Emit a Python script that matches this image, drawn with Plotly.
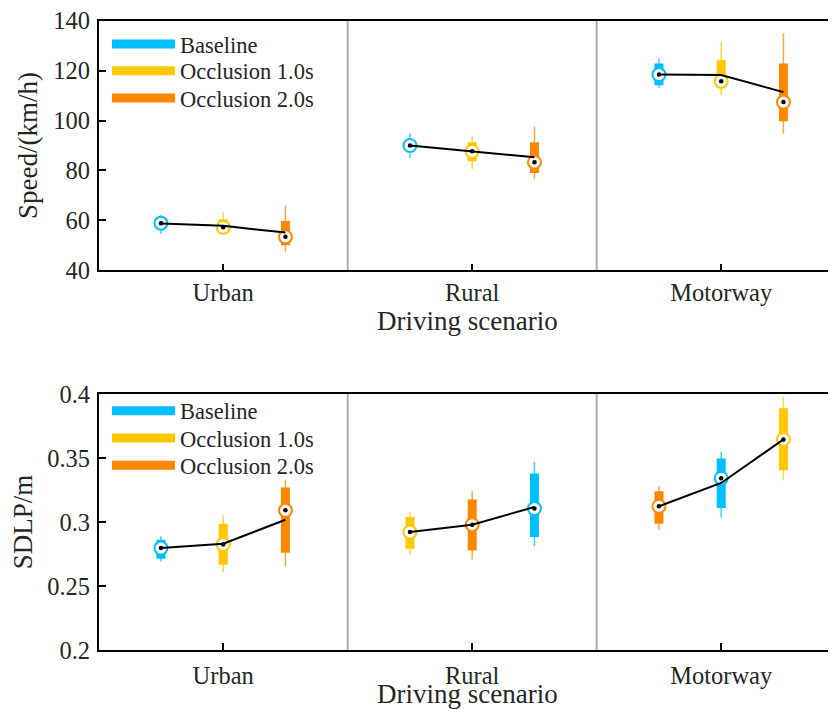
import plotly.graph_objects as go

# ---------------- data ----------------
scenarios = ["Urban", "Rural", "Motorway"]
series_names = ["Baseline", "Occlusion 1.0s", "Occlusion 2.0s"]
series_colors = {"Baseline": "#00BFFF", "Occlusion 1.0s": "#FFC800", "Occlusion 2.0s": "#FF8800"}

# Speed panel (per scenario, boxes in left-to-right order)
speed_order = [["Baseline", "Occlusion 1.0s", "Occlusion 2.0s"],
               ["Baseline", "Occlusion 1.0s", "Occlusion 2.0s"],
               ["Baseline", "Occlusion 1.0s", "Occlusion 2.0s"]]
speed_median = [[58.9, 57.2, 53.4], [90.0, 87.7, 83.3], [118.4, 115.7, 107.4]]
speed_q1 = [[57.5, 56.0, 50.0], [88.5, 83.7, 79.0], [114.1, 114.0, 99.7]]
speed_q3 = [[60.3, 60.5, 59.8], [91.5, 91.3, 91.3], [122.9, 124.2, 122.9]]
speed_low = [[54.5, 54.2, 47.5], [85.0, 80.6, 76.6], [113.0, 110.1, 94.7]]
speed_high = [[62.2, 63.2, 65.9], [94.9, 94.0, 97.6], [124.9, 131.6, 134.9]]
speed_mean = [[58.8, 57.8, 55.1], [90.0, 87.7, 85.3], [118.4, 118.2, 111.4]]

# SDLP panel
sdlp_order = [["Baseline", "Occlusion 1.0s", "Occlusion 2.0s"],
              ["Occlusion 1.0s", "Occlusion 2.0s", "Baseline"],
              ["Occlusion 2.0s", "Baseline", "Occlusion 1.0s"]]
sdlp_median = [[0.2796, 0.2825, 0.3091], [0.2921, 0.2979, 0.3105], [0.3123, 0.3342, 0.3645]]
sdlp_q1 = [[0.2713, 0.2666, 0.2760], [0.2791, 0.2778, 0.2882], [0.2987, 0.3110, 0.3404]]
sdlp_q3 = [[0.2862, 0.2987, 0.3269], [0.3039, 0.3175, 0.3379], [0.3240, 0.3496, 0.3888]]
sdlp_low = [[0.2692, 0.2608, 0.2653], [0.2747, 0.2707, 0.2812], [0.2940, 0.3034, 0.3326]]
sdlp_high = [[0.2888, 0.3052, 0.3332], [0.3078, 0.3240, 0.3470], [0.3279, 0.3548, 0.3979]]
sdlp_mean = [[0.2796, 0.2830, 0.3018], [0.2921, 0.2979, 0.3117], [0.3123, 0.3305, 0.3645]]

speed_ticks = [40, 60, 80, 100, 120, 140]
sdlp_ticks = [0.2, 0.25, 0.3, 0.35, 0.4]
sdlp_ticktext = ["0.2", "0.25", "0.3", "0.35", "0.4"]

# ---------------- styling ----------------
FONT = "Liberation Serif"
TXT = "#262626"
FS_TICK = 24.5
FS_TITLE = 27
FS_LEG = 22.5
slot_offsets = [-0.25, 0.0, 0.25]
OFF = 8                      # page body margin of the html page
FW, FH = 836 - OFF, 709 - OFF

fig = go.Figure()


def add_panel(order, med, q1, q3, low, high, mean, xref, yref, legends):
    # whiskers
    for s in series_names:
        xs, ys = [], []
        for g in range(3):
            for k in range(3):
                if order[g][k] == s:
                    p = g + 1 + slot_offsets[k]
                    xs += [p, p, None]
                    ys += [low[g][k], high[g][k], None]
        fig.add_trace(go.Scatter(x=xs, y=ys, mode="lines", xaxis=xref, yaxis=yref,
                                 line=dict(color=series_colors[s], width=1.5),
                                 opacity=0.75, showlegend=False, hoverinfo="skip"))
    # boxes (these carry the legend entries)
    for i, s in enumerate(series_names):
        xs, ys = [], []
        for g in range(3):
            for k in range(3):
                if order[g][k] == s:
                    p = g + 1 + slot_offsets[k]
                    xs += [p, p, None]
                    ys += [q1[g][k], q3[g][k], None]
        fig.add_trace(go.Scatter(x=xs, y=ys, mode="lines", name=s, xaxis=xref, yaxis=yref,
                                 line=dict(color=series_colors[s], width=9),
                                 legend=legends[i], showlegend=True))
    # median circles
    mx, my, mc = [], [], []
    for g in range(3):
        for k in range(3):
            mx.append(g + 1 + slot_offsets[k])
            my.append(med[g][k])
            mc.append(series_colors[order[g][k]])
    fig.add_trace(go.Scatter(x=mx, y=my, mode="markers", xaxis=xref, yaxis=yref,
                             marker=dict(symbol="circle", size=13, color="white",
                                         line=dict(color=mc, width=2)),
                             showlegend=False))
    # mean line
    lx, ly = [], []
    for g in range(3):
        for k in range(3):
            lx.append(g + 1 + slot_offsets[k])
            ly.append(mean[g][k])
        lx.append(None)
        ly.append(None)
    fig.add_trace(go.Scatter(x=lx, y=ly, mode="lines", xaxis=xref, yaxis=yref,
                             line=dict(color="black", width=2), showlegend=False))
    # median dots
    fig.add_trace(go.Scatter(x=mx, y=my, mode="markers", xaxis=xref, yaxis=yref,
                             marker=dict(symbol="circle", size=4.5, color="black"),
                             showlegend=False))
    # group separators
    for sep in [1.5, 2.5]:
        fig.add_shape(type="line", x0=sep, x1=sep, y0=0, y1=1, xref=xref,
                      yref=yref + " domain", line=dict(color="#B0B0B0", width=2), layer="below")


add_panel(speed_order, speed_median, speed_q1, speed_q3, speed_low, speed_high, speed_mean,
          "x", "y", ["legend", "legend2", "legend3"])
add_panel(sdlp_order, sdlp_median, sdlp_q1, sdlp_q3, sdlp_low, sdlp_high, sdlp_mean,
          "x2", "y2", ["legend4", "legend5", "legend6"])


def fy(py):
    """window pixel row -> paper fraction"""
    return (FH - (py - OFF)) / FH


x_left = 98.7 - OFF
x_dom = [x_left / FW, 1.0]
top_dom = [fy(270.3), fy(20.7)]
bot_dom = [fy(650.0), fy(394.0)]
xrange = [0.5, 0.5 + (FW - x_left) / 249.0]

axis_common = dict(showline=True, linecolor="black", linewidth=1.5, ticks="inside",
                   tickcolor="black", tickwidth=1.5, showgrid=False, zeroline=False,
                   automargin=False, ticklabeloverflow="allow",
                   tickfont=dict(family=FONT, size=FS_TICK, color=TXT))
title_font = dict(family=FONT, size=FS_TITLE, color=TXT)

legend_rows = {"legend": 44.3, "legend2": 71.0, "legend3": 98.3,
               "legend4": 411.0, "legend5": 438.3, "legend6": 465.7}
legend_layouts = {}
for key, yc in legend_rows.items():
    legend_layouts[key] = dict(x=(107 - OFF) / FW, y=fy(yc), xanchor="left", yanchor="middle",
                               bgcolor="rgba(0,0,0,0)",
                               font=dict(family=FONT, size=FS_LEG, color=TXT),
                               itemwidth=63)

fig.update_layout(
    width=FW, height=FH,
    margin=dict(l=0, r=0, t=0, b=0, autoexpand=False),
    paper_bgcolor="white", plot_bgcolor="white",
    font=dict(family=FONT, size=FS_TICK, color=TXT),
    showlegend=True,
    xaxis=dict(domain=x_dom, range=xrange, tickvals=[1, 2, 3], ticktext=scenarios,
               ticklen=7, mirror=True, anchor="y", ticklabelstandoff=0,
               title=dict(text="Driving scenario", standoff=2, font=title_font),
               **axis_common),
    yaxis=dict(domain=top_dom, range=[40, 140], tickvals=speed_ticks, ticklen=8,
               anchor="x", ticklabelstandoff=2,
               title=dict(text="Speed/(km/h)", standoff=8, font=title_font),
               **axis_common),
    xaxis2=dict(domain=x_dom, range=xrange, tickvals=[1, 2, 3], ticktext=scenarios,
                ticklen=7, mirror=True, anchor="y2", ticklabelstandoff=3,
                title=dict(text="Driving scenario", standoff=6, font=title_font),
                **axis_common),
    yaxis2=dict(domain=bot_dom, range=[0.2, 0.4], tickvals=sdlp_ticks, ticktext=sdlp_ticktext,
                ticklen=8, anchor="x2", ticklabelstandoff=2,
                title=dict(text="SDLP/m", standoff=8, font=title_font),
                **axis_common),
    **legend_layouts,
)

fig.write_html("out.html")
